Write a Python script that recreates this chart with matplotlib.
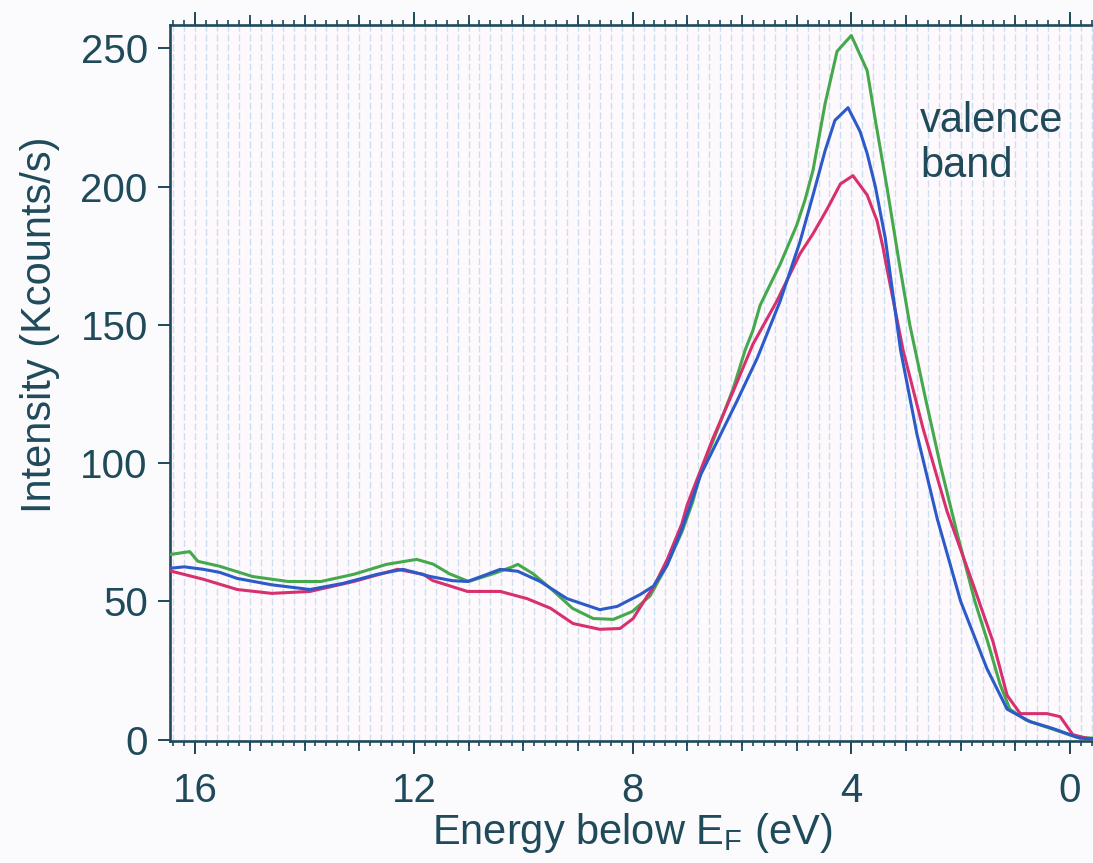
import numpy as np
import matplotlib
matplotlib.use("Agg")
import matplotlib.pyplot as plt
from matplotlib.ticker import MultipleLocator

plt.rcParams["font.family"] = ["Liberation Sans", "DejaVu Sans"]
plt.rcParams["mathtext.fontset"] = "custom"
plt.rcParams["mathtext.rm"] = "Liberation Sans"

# Photoemission spectra: energy below E_F (eV) vs. intensity (Kcounts/s)
green_e = [16.45, 16.1, 15.95, 15.55, 14.95, 14.3, 13.7, 13.1, 12.5, 11.95,
           11.65, 11.35, 11.0, 10.55, 10.2, 10.1, 9.82, 9.5, 9.1, 8.72,
           8.35, 8.0, 7.68, 7.4, 7.1, 6.9, 6.75, 6.45, 6.16, 5.94,
           5.8, 5.67, 5.45, 5.3, 5.0, 4.85, 4.7, 4.48, 4.26, 4.0,
           3.71, 3.56, 3.35, 3.12, 2.93, 2.65, 2.38, 2.07, 1.74, 1.5,
           1.28, 1.1, 0.8, 0.5, 0.2, -0.1, -0.42]
green_i = [67, 68, 64.5, 62.7, 59, 57.2, 57.2, 59.8, 63.4, 65.2,
           63.5, 60, 57.2, 60, 62.5, 63.4, 60, 54.7, 47.5, 43.8,
           43.5, 46.4, 52, 62, 75, 86, 97, 112, 127, 141,
           148, 157, 166, 172, 186, 195, 206, 230, 249, 254.7,
           242, 224, 200, 172, 150, 124, 100, 75, 50, 35,
           20, 11, 7, 5, 3, 1, 0.5]

blue_e = [16.45, 16.2, 15.85, 15.55, 15.23, 14.6, 13.9, 13.3, 12.67, 12.2,
          11.7, 11.3, 11.02, 10.7, 10.42, 10.1, 9.69, 9.2, 8.6, 8.28,
          7.86, 7.62, 7.37, 7.1, 6.89, 6.75, 6.45, 6.09, 5.72, 5.3,
          5.16, 4.94, 4.7, 4.48, 4.3, 4.06, 3.84, 3.71, 3.56, 3.38,
          3.1, 2.8, 2.43, 2.0, 1.52, 1.15, 0.73, 0.31, -0.18, -0.42]
blue_i = [62, 62.5, 61.6, 60.5, 58.3, 56, 54.3, 56.5, 59.8, 61.6,
          59, 57.5, 57.2, 59.5, 61.6, 60.9, 57.2, 51, 47, 48.2,
          52.5, 55.5, 63, 76, 88, 96, 108, 122.5, 138, 158.7,
          167, 180, 197, 213, 224, 228.6, 220, 212, 200, 181.5,
          141, 110.5, 80, 50, 25.7, 11, 6.5, 4, 0.5, 0.3]

red_e = [16.45, 16.15, 15.85, 15.23, 14.6, 13.9, 13.1, 12.3, 11.83, 11.65,
         11.02, 10.42, 9.93, 9.5, 9.09, 8.6, 8.23, 7.99, 7.73, 7.62,
         7.37, 7.1, 7.0, 6.53, 6.16, 5.8, 5.36, 4.94, 4.7, 4.44,
         4.2, 3.97, 3.71, 3.53, 3.42, 3.35, 3.05, 2.69, 2.25, 1.77,
         1.41, 1.15, 0.91, 0.42, 0.18, -0.05, -0.3, -0.42]
red_i = [61, 59.5, 58, 54.3, 52.9, 53.6, 57.2, 61.6, 59.8, 57.5,
         53.6, 53.6, 51, 47.5, 42, 39.9, 40.2, 43.8, 52, 55,
         65, 78, 85, 109, 126, 143, 158.7, 175.7, 183, 192,
         201, 204, 197, 187.7, 178, 170.6, 140.6, 112.7, 82.6, 56,
         35.5, 16, 9.4, 9.4, 8.3, 1.8, 0.5, 0.3]

y_ticks = [0, 50, 100, 150, 200, 250]
x_ticks = [16, 12, 8, 4, 0]

ink = "#1f4a5a"
W, H = 1093, 863
fig = plt.figure(figsize=(W / 100, H / 100), dpi=100, facecolor="#fbfafd")
ax = fig.add_axes([170 / W, 1 - 741 / H, 1 - 170 / W, (741 - 25) / H])
ax.set_facecolor("#fdf9fc")

line_kw = dict(lw=2.2, solid_joinstyle="round", solid_capstyle="round")
ax.plot(green_e, green_i, color="#45a84c", zorder=3, **line_kw)
ax.plot(red_e, red_i, color="#d8306e", zorder=4, **line_kw)
ax.plot(blue_e, blue_i, color="#2c5ac8", zorder=5, **line_kw)

ax.set_xlim(16.46, -0.42)
ax.set_ylim(-0.5, 258.5)

for side in ("left", "bottom", "top"):
    ax.spines[side].set_color(ink)
    ax.spines[side].set_linewidth(1.9)
ax.spines["right"].set_visible(False)

ax.set_yticks(y_ticks)
ax.set_xticks(x_ticks)
ax.xaxis.set_minor_locator(MultipleLocator(0.2))
ax.tick_params(axis="y", which="major", direction="out", length=9, width=1.4,
               color=ink, labelcolor=ink, labelsize=29, pad=7, right=False)
ax.tick_params(axis="x", which="major", direction="out", length=9.5, width=1.4,
               color=ink, labelcolor=ink, labelsize=29, pad=13, top=True)
ax.tick_params(axis="x", which="minor", direction="out", length=3.5, width=1.2,
               color=ink, top=True)

# faint vertical ruling
ax.grid(True, axis="x", which="both", color="#c3dbee", lw=1.0,
        linestyle=(0, (5, 2)), alpha=0.85, zorder=0)
ax.set_axisbelow(True)

# intermediate 1 eV ticks on bottom and top
for loc in ("bottom", "top"):
    sec = ax.secondary_xaxis(loc)
    sec.set_xticks(np.arange(0, 17, 1))
    sec.tick_params(axis="x", direction="out", length=7, width=1.3, color=ink,
                    labelbottom=False, labeltop=False)
    for s in sec.spines.values():
        s.set_visible(False)

fig.text(40 / W, 1 - 325 / H, "Intensity (Kcounts/s)", rotation=90,
         ha="center", va="center", fontsize=30, color=ink)
fig.text(632 / W, 1 - 833 / H, r"Energy below E$_\mathrm{F}$ (eV)",
         ha="center", va="center", fontsize=30, color=ink)
ax.text(2.74, 231, "valence\nband", ha="left", va="top", fontsize=30,
        color=ink, linespacing=1.15)

fig.savefig("out.png", dpi=100, facecolor=fig.get_facecolor())
